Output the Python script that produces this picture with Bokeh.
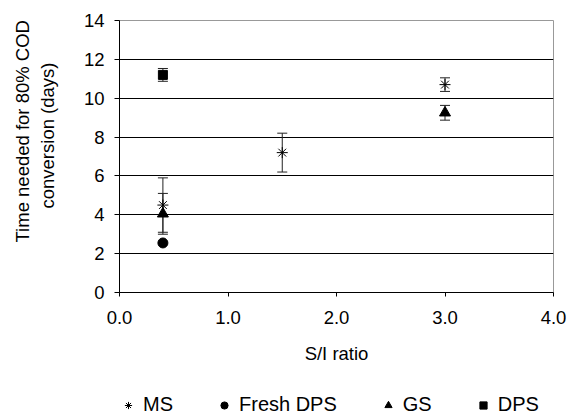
from bokeh.plotting import figure
from bokeh.layouts import column
from bokeh.models import (ColumnDataSource, Whisker, TeeHead, Range1d, FixedTicker,
                          NumeralTickFormatter, Legend, LegendItem, Title, LinearAxis)
from bokeh.embed import file_html
from bokeh.resources import INLINE

# ---- data ----
ms_x = [0.4, 1.5, 3.0]
ms_y = [4.5, 7.2, 10.7]
ms_err = [1.4, 1.0, 0.35]

fresh_x = [0.4]
fresh_y = [2.55]

gs_x = [0.4, 3.0]
gs_y = [4.05, 9.25]
gs_err = [1.05, 0.38]

dps_x = [0.4]
dps_y = [11.2]
dps_err = [0.33]

x_ticks = [0, 1, 2, 3, 4]
y_ticks = [0, 2, 4, 6, 8, 10, 12, 14]

FONT = "Liberation Sans"

p = figure(width=568, height=376, output_backend="svg", toolbar_location=None,
           x_range=Range1d(0, 4), y_range=Range1d(0, 14),
           min_border_left=119, min_border_right=15, min_border_top=20,
           min_border_bottom=84)
p.background_fill_color = "white"
p.border_fill_color = "white"
p.outline_line_color = "#999999"

p.xgrid.visible = False
p.ygrid.ticker = FixedTicker(ticks=y_ticks)
p.ygrid.grid_line_color = "black"
p.ygrid.grid_line_width = 1

p.xaxis.ticker = FixedTicker(ticks=x_ticks)
p.xaxis.formatter = NumeralTickFormatter(format="0.0")
p.yaxis.ticker = FixedTicker(ticks=y_ticks)
for ax in (p.xaxis, p.yaxis):
    ax.axis_line_color = "black"
    ax.major_tick_line_color = "black"
    ax.minor_tick_line_color = None
    ax.major_tick_in = 0
    ax.major_label_text_font = FONT
    ax.major_label_text_font_size = "18.5px"
    ax.major_label_text_color = "black"
p.xaxis.major_tick_out = 4
p.yaxis.major_tick_out = 5
p.xaxis.major_label_standoff = 14
p.yaxis.major_label_standoff = 10
p.xaxis.axis_label = "S/I ratio"
p.xaxis.axis_label_text_font = FONT
p.xaxis.axis_label_text_font_size = "18.5px"
p.xaxis.axis_label_text_font_style = "normal"
p.xaxis.axis_label_text_color = "black"
p.xaxis.axis_label_standoff = 16

# spacer between tick labels and the y-axis title (blank axis, one white tick)
spacer = LinearAxis(ticker=FixedTicker(ticks=[0]), axis_line_color=None,
                    major_tick_line_color="white", minor_tick_line_color=None,
                    major_tick_out=22, minor_tick_out=0, major_tick_in=0, minor_tick_in=0,
                    major_label_overrides={0: ""}, major_label_standoff=0)
p.add_layout(spacer, "left")

# y-axis title (two lines), inner line added first
t2 = Title(text="conversion (days)", align="left", offset=84, standoff=2,
           text_font=FONT, text_font_size="18.5px", text_font_style="normal", text_color="black")
t1 = Title(text="Time needed for 80% COD", align="left", offset=50, standoff=2,
           text_font=FONT, text_font_size="18.5px", text_font_style="normal", text_color="black")
p.add_layout(t2, "left")
p.add_layout(t1, "left")

def whisk(xs, ys, errs):
    src = ColumnDataSource(dict(x=xs, lo=[y - e for y, e in zip(ys, errs)],
                                hi=[y + e for y, e in zip(ys, errs)]))
    w = Whisker(source=src, base="x", lower="lo", upper="hi", line_color="#222222",
                line_width=1,
                upper_head=TeeHead(size=10, line_color="#222222", line_width=1),
                lower_head=TeeHead(size=10, line_color="#222222", line_width=1))
    p.add_layout(w)

whisk(ms_x, ms_y, ms_err)
whisk(gs_x, gs_y, gs_err)
whisk(dps_x, dps_y, dps_err)

MS_STYLE = dict(marker="asterisk", size=11, line_color="black", line_width=1)
FR_STYLE = dict(marker="circle", size=10, fill_color="black", line_color="black")
GS_STYLE = dict(marker="triangle", size=11, fill_color="black", line_color="black")
DP_STYLE = dict(marker="square", size=9, fill_color="black", line_color="black")

p.scatter(ms_x, ms_y, **MS_STYLE)
p.scatter(fresh_x, fresh_y, **FR_STYLE)
p.scatter(gs_x, gs_y, **GS_STYLE)
p.scatter(dps_x, dps_y, **DP_STYLE)

# ---- legend strip (its own renderers sit outside its visible range) ----
lf = figure(width=568, height=40, output_backend="svg", toolbar_location=None,
            x_range=Range1d(100, 101), y_range=Range1d(100, 101),
            x_axis_type=None, y_axis_type=None, min_border=0)
lf.outline_line_color = None
lf.grid.visible = False
lr_ms = lf.scatter(ms_x, ms_y, **MS_STYLE)
lr_fr = lf.scatter(fresh_x, fresh_y, **FR_STYLE)
lr_gs = lf.scatter(gs_x, gs_y, **GS_STYLE)
lr_dp = lf.scatter(dps_x, dps_y, **DP_STYLE)
legend = Legend(items=[LegendItem(label="MS", renderers=[lr_ms]),
                       LegendItem(label="Fresh DPS", renderers=[lr_fr]),
                       LegendItem(label="GS", renderers=[lr_gs]),
                       LegendItem(label="DPS", renderers=[lr_dp])],
                location=(0, 0), orientation="horizontal", spacing=42,
                glyph_width=18, glyph_height=18, label_standoff=6,
                padding=0, margin=0, border_line_color=None, background_fill_alpha=0,
                label_text_font=FONT, label_text_font_size="20px", label_text_color="black")
lf.add_layout(legend)

layout = column(p, lf, spacing=0)
open("out.html", "w").write(file_html(layout, INLINE))
